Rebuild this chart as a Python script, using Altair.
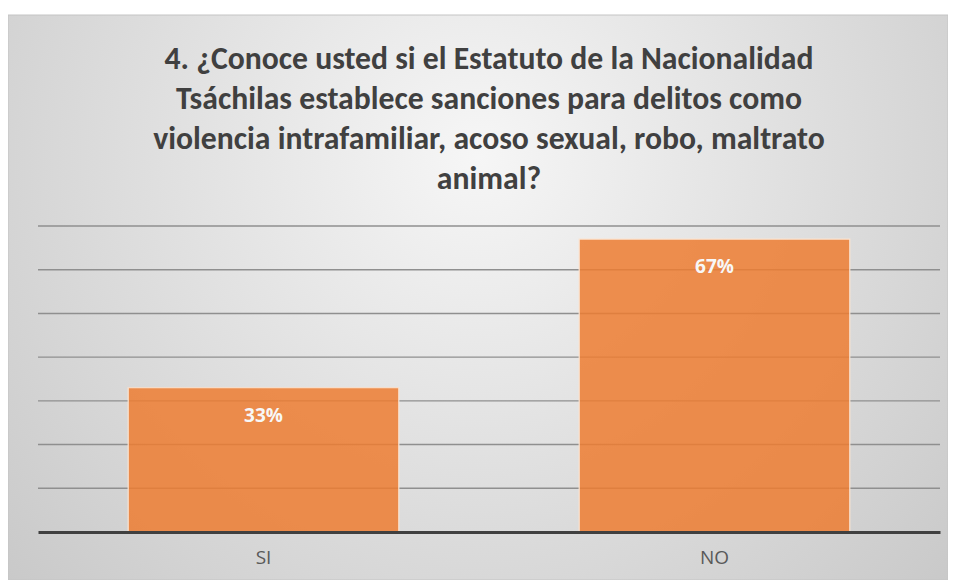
import altair as alt
import pandas as pd

categories = ["SI", "NO"]
values = [0.33, 0.67]
labels = ["33%", "67%"]
grid_values = [0.1, 0.2, 0.3, 0.4, 0.5, 0.6, 0.7]
title_lines = [
    "4. ¿Conoce usted si el Estatuto de la Nacionalidad",
    "Tsáchilas establece sanciones para delitos como",
    "violencia intrafamiliar, acoso sexual, robo, maltrato",
    "animal?",
]

df = pd.DataFrame({"cat": categories, "val": values, "label": labels})
grid_df = pd.DataFrame({"g": grid_values})
bg_df = pd.DataFrame({"a": [0]})

x_enc = alt.X(
    "cat:N",
    sort=categories,
    title=None,
    scale=alt.Scale(paddingInner=0.4, paddingOuter=0.2),
    axis=alt.Axis(
        labelAngle=0,
        labelFont="Open Sans",
        labelFontSize=19,
        labelColor="#595959",
        labelPadding=16,
        ticks=False,
        domainColor="#404040",
        domainWidth=3,
        grid=False,
        zindex=1,
    ),
)
y_scale = alt.Scale(domain=[0, 0.7], nice=False)

background = alt.Chart(bg_df).mark_rect(
    fill=alt.Gradient(
        gradient="radial",
        stops=[
            alt.GradientStop(offset=0, color="#f6f6f6"),
            alt.GradientStop(offset=1, color="#c4c4c4"),
        ],
        x1=0.5, y1=0.35, x2=0.5, y2=0.35, r1=0, r2=0.75,
    ),
    stroke="#c4c4c4",
    strokeWidth=1,
).encode(
    x=alt.value(-30), x2=alt.value(910), y=alt.value(-211), y2=alt.value(354)
)

grid = alt.Chart(grid_df).mark_rule(color="#8f8f8f", strokeWidth=1.4).encode(
    y=alt.Y("g:Q", scale=y_scale, axis=None),
    x=alt.value(0),
    x2=alt.value(902),
)

bars = alt.Chart(df).mark_bar(
    color="#ED7D31",
    fillOpacity=0.85,
    stroke="#fbe3d0",
    strokeWidth=1.2,
).encode(
    x=x_enc,
    y=alt.Y("val:Q", scale=y_scale, axis=None),
)

text = alt.Chart(df).mark_text(
    font="Open Sans",
    fontWeight="bold",
    fontSize=19,
    color="#f7f7f7",
    baseline="middle",
    dy=28,
).encode(
    x=alt.X("cat:N", sort=categories),
    y=alt.Y("val:Q", scale=y_scale),
    text="label:N",
)

chart = alt.layer(background, grid, bars, text).properties(
    width=902,
    height=306,
    autosize=alt.AutoSizeParams(type="none"),
    padding={"left": 30, "top": 218, "right": 8, "bottom": 48},
    background="white",
    title=alt.TitleParams(
        text=title_lines,
        font="Carlito, Liberation Sans",
        fontSize=31.7,
        fontWeight="bold",
        color="#404040",
        lineHeight=40,
        anchor="middle",
        frame="group",
        offset=-181,
    ),
).configure_view(stroke=None)

chart.save("out.html", embed_options={"renderer": "svg", "actions": False})
